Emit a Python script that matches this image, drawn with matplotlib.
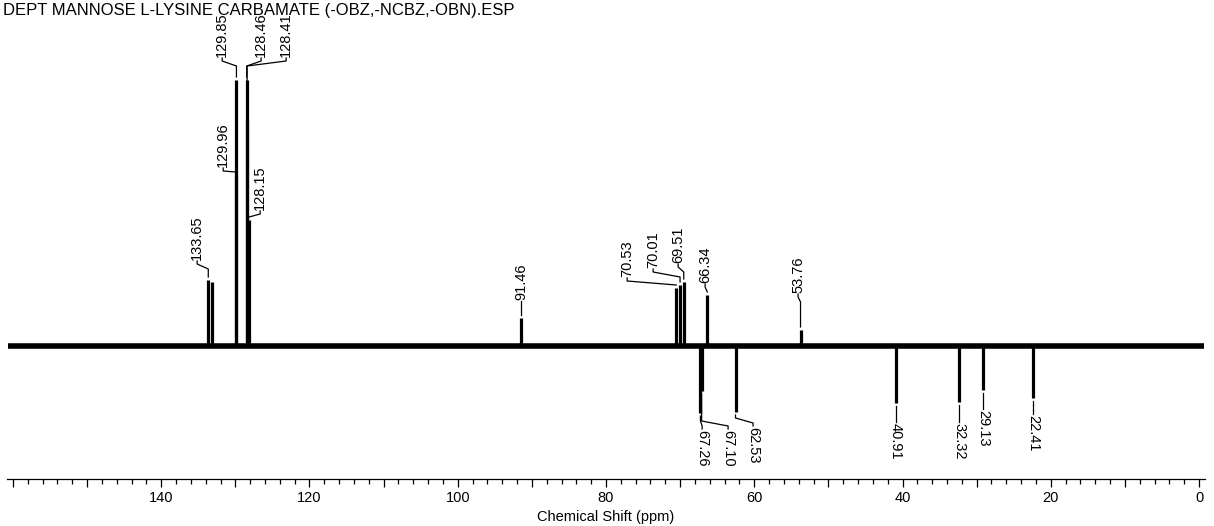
import matplotlib
matplotlib.use('Agg')
import matplotlib.pyplot as plt
from matplotlib.ticker import MultipleLocator, FuncFormatter

plt.rcParams['font.family'] = ['Liberation Sans', 'DejaVu Sans']

title = 'DEPT MANNOSE L-LYSINE CARBAMATE (-OBZ,-NCBZ,-OBN).ESP'

# peak positions (ppm) and heights (arbitrary units, baseline = 0, DEPT negatives below)
peakPpm = [133.65, 133.20, 129.96, 129.85, 128.46, 128.41, 128.15, 91.46,
           70.53, 70.01, 69.51, 66.34, 53.76,
           67.26, 67.10, 62.53, 40.91, 32.32, 29.13, 22.41]
peakHeight = [66, 64, 171, 266, 266, 226, 126, 28,
              58, 61, 64, 51, 16,
              -67, -45, -66, -57, -56, -44, -52]

# labelled peaks: text, peak ppm, label ppm, label edge y
labelText = ['133.65', '129.96', '129.85', '128.46', '128.41', '128.15', '91.46',
             '70.53', '70.01', '69.51', '66.34', '53.76',
             '67.26', '67.10', '62.53', '40.91', '32.32', '29.13', '22.41']
labelPeak = [133.65, 129.96, 129.85, 128.46, 128.41, 128.15, 91.46,
             70.53, 70.01, 69.51, 66.34, 53.76,
             67.26, 67.10, 62.53, 40.91, 32.32, 29.13, 22.41]
labelX = [135.15, 131.64, 131.78, 126.52, 123.15, 126.65, 91.46,
          77.15, 73.64, 70.27, 66.63, 54.09,
          67.03, 63.53, 60.16, 40.91, 32.32, 29.13, 22.41]
labelY = [86, 179, 289, 289, 289, 136, 46,
          69, 78, 83, 63, 53,
          -84, -84, -81, -77, -77, -64, -69]

fig = plt.figure(figsize=(12.14, 5.26), dpi=100)
ax = fig.add_axes([7/1214, 1-479/526, 1198/1214, 479/526])

# baseline (noise band)
ax.plot([160.6, -0.6], [0, 0], color='black', lw=4, solid_capstyle='butt')

# peaks
ax.vlines(peakPpm, 0, peakHeight, color='black', lw=2.3)

heights = dict(zip(peakPpm, peakHeight))
for txt, pk, lx, ly in zip(labelText, labelPeak, labelX, labelY):
    h = heights[pk]
    if ly > 0:
        yb = ly - 4
        ya = ly - 9
        start = h + 3
        ax.plot([pk, pk, lx, lx], [start, max(ya, start), yb, ly - 1], color='black', lw=0.9)
        ax.text(lx, ly, txt, rotation=90, ha='center', va='bottom', fontsize=10.5)
    else:
        yb = ly + 4
        ya = ly + 9
        start = h - 3
        ax.plot([pk, pk, lx, lx], [start, min(ya, start), yb, ly + 1], color='black', lw=0.9)
        ax.text(lx, ly, txt, rotation=270, ha='center', va='top', fontsize=10.5)

ax.set_xlim(160.8, -0.8)
ax.set_ylim(-133, 346)

for s in ['top', 'left', 'right']:
    ax.spines[s].set_visible(False)
ax.spines['bottom'].set_linewidth(0.9)
ax.set_yticks([])
ax.xaxis.set_major_locator(MultipleLocator(10))
ax.xaxis.set_minor_locator(MultipleLocator(2))
ax.xaxis.set_major_formatter(FuncFormatter(lambda v, p: '%d' % v if round(v) % 20 == 0 and round(v) < 160 else ''))
ax.tick_params(axis='x', which='major', length=6, width=0.9, labelsize=10.5, pad=3)
ax.tick_params(axis='x', which='minor', length=3.5, width=0.9)
ax.set_xlabel('Chemical Shift (ppm)', fontsize=10.5, labelpad=3)

fig.text(3/1214, 1-11/526, title, fontsize=12, ha='left', va='center')

plt.savefig('out.png', dpi=100)
